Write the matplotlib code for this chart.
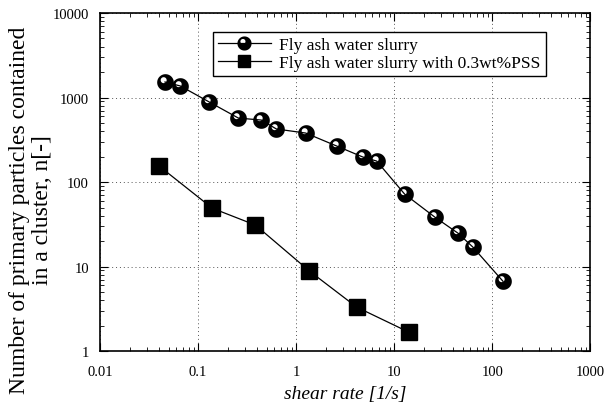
import numpy as np
import matplotlib
matplotlib.use("Agg")
import matplotlib.pyplot as plt
from matplotlib.path import Path
from matplotlib.ticker import FixedLocator, FixedFormatter, LogLocator, NullFormatter

plt.rcParams["font.family"] = ["Liberation Serif", "DejaVu Serif"]

# fly ash water slurry
shear_plain = [0.046, 0.066, 0.130, 0.258, 0.443, 0.63, 1.25, 2.59, 4.78, 6.64, 12.8, 26.0, 44.7, 63.6, 129]
n_plain = [1525, 1368, 885, 571, 541, 424, 380, 267, 198, 177, 72, 38.5, 24.9, 17.0, 6.7]

# with 0.3wt% PSS
shear_pss = [0.040, 0.140, 0.385, 1.37, 4.15, 14.1]
n_pss = [155, 49, 31, 8.85, 3.32, 1.68]

x_ticks = [0.01, 0.1, 1, 10, 100, 1000]
x_labels = ["0.01", "0.1", "1", "10", "100", "1000"]
y_ticks = [1, 10, 100, 1000, 10000]
y_labels = ["1", "10", "100", "1000", "10000"]


def _sphere_marker() -> Path:
    # black ball with a white glint (hole) towards the upper left
    t_out = np.linspace(0, 2 * np.pi, 49)
    outer = Path(np.column_stack([np.cos(t_out), np.sin(t_out)]), closed=True)
    t_in = np.linspace(0, -2 * np.pi, 25)
    inner = Path(np.column_stack([-0.22 + 0.36 * np.cos(t_in), 0.28 + 0.36 * np.sin(t_in)]), closed=True)
    return Path.make_compound_path(outer, inner)


fig = plt.figure(figsize=(6.06, 4.10), dpi=100)
ax = fig.add_axes([0.165, 0.141, 0.809, 0.825])

ax.plot(shear_plain, n_plain, color="black", lw=0.9, marker=_sphere_marker(),
        markersize=12, markerfacecolor="black", markeredgewidth=0,
        label="Fly ash water slurry", zorder=3)
ax.plot(shear_pss, n_pss, color="black", lw=0.9, marker="s", markersize=11,
        markerfacecolor="black", markeredgecolor="black",
        label="Fly ash water slurry with 0.3wt%PSS", zorder=3)

ax.set_xscale("log")
ax.set_yscale("log")
ax.set_xlim(0.01, 1000)
ax.set_ylim(1, 10000)

ax.xaxis.set_major_locator(FixedLocator(x_ticks))
ax.xaxis.set_major_formatter(FixedFormatter(x_labels))
ax.yaxis.set_major_locator(FixedLocator(y_ticks))
ax.yaxis.set_major_formatter(FixedFormatter(y_labels))
ax.xaxis.set_minor_locator(LogLocator(base=10, subs=np.arange(2, 10)))
ax.yaxis.set_minor_locator(LogLocator(base=10, subs=np.arange(2, 10)))
ax.xaxis.set_minor_formatter(NullFormatter())
ax.yaxis.set_minor_formatter(NullFormatter())

ax.tick_params(which="both", direction="in", top=True, right=True, labelsize=10.5, colors="black")
ax.tick_params(which="major", length=6, width=0.8)
ax.tick_params(which="minor", length=3, width=0.6)
ax.tick_params(axis="x", which="major", pad=10)
ax.tick_params(axis="y", which="major", pad=8)
for spine in ax.spines.values():
    spine.set_linewidth(1.2)

ax.grid(True, which="major", linestyle=(0, (1, 3)), color="#555555", lw=0.7)

ax.set_xlabel("shear rate [1/s]", fontsize=14, style="italic", labelpad=5)
ax.set_ylabel("Number of primary particles contained\nin a cluster, n[-]", fontsize=17,
              linespacing=1.1)
ax.yaxis.set_label_coords(-0.096, 0.42)

leg = ax.legend(loc="upper left", bbox_to_anchor=(0.231, 0.944), borderaxespad=0,
                fontsize=12.5, frameon=True, fancybox=False, edgecolor="black", framealpha=1,
                borderpad=0.3, labelspacing=0.1, handlelength=3.0, handletextpad=0.5,
                markerscale=0.85)
leg.get_frame().set_linewidth(1.0)

fig.savefig("out.png", dpi=100)
